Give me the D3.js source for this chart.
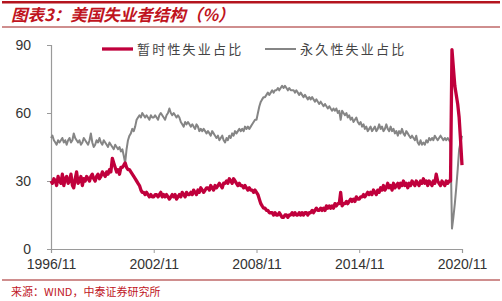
<!DOCTYPE html>
<html>
<head>
<meta charset="utf-8">
<script src="https://cdn.jsdelivr.net/npm/d3@7"></script>
<style>
  body { margin: 0; background: #fff; }
  svg { display: block; }
</style>
</head>
<body>
<div id="chart"></div>
<script>
// Monthly data, 1996/11 - 2020/11
var startYear = 1996, startMonth = 11;

// 暂时性失业占比 (%)
var temporary = [
  30, 29,                                          // 1996
  31, 30, 28, 32, 30, 29, 33, 28, 31, 32, 29, 30,  // 1997
  33, 28, 27, 31, 34, 29, 30, 32, 28, 31, 30, 32,  // 1998
  31, 30, 32, 33, 31, 30, 32, 33, 31, 32, 34, 33,  // 1999
  32, 34, 33, 35, 34, 40, 38, 36, 34, 35, 33, 36,  // 2000
  36, 37, 38, 36, 35, 35, 34, 33, 32, 31, 30, 29,  // 2001
  28, 26, 25, 25, 24, 25, 24, 23, 24, 23, 23, 24,  // 2002
  24, 23, 24, 25, 23, 24, 23, 24, 23, 22, 23, 24,  // 2003
  23, 24, 22, 23, 24, 23, 25, 24, 23, 25, 24, 24,  // 2004
  25, 24, 26, 25, 24, 26, 25, 27, 26, 25, 26, 27,  // 2005
  27, 26, 28, 27, 26, 28, 27, 28, 29, 28, 27, 29,  // 2006
  29, 30, 29, 31, 30, 29, 31, 30, 29, 28, 29, 28,  // 2007
  28, 27, 28, 27, 26, 27, 26, 26, 25, 26, 25, 24,  // 2008
  22, 20, 19, 18, 18, 17, 17, 16, 16, 16, 15, 16,  // 2009
  15, 15, 16, 15, 14, 14, 15, 15, 14, 15, 15, 16,  // 2010
  15, 16, 15, 15, 16, 15, 16, 15, 16, 16, 15, 16,  // 2011
  16, 17, 16, 17, 18, 17, 17, 18, 17, 18, 17, 19,  // 2012
  18, 19, 18, 19, 18, 20, 19, 20, 20, 25, 19, 20,  // 2013
  20, 21, 20, 21, 22, 21, 22, 21, 23, 22, 22, 23,  // 2014
  23, 24, 23, 24, 25, 24, 25, 24, 26, 25, 24, 26,  // 2015
  25, 27, 26, 28, 26, 27, 29, 27, 28, 26, 29, 27,  // 2016
  28, 29, 27, 29, 28, 30, 28, 29, 27, 29, 28, 30,  // 2017
  29, 28, 30, 29, 28, 30, 29, 31, 29, 30, 28, 30,  // 2018
  29, 28, 30, 29, 33, 30, 29, 28, 30, 29, 28, 30,  // 2019
  29, 30, 30, 88, 80, 72, 68, 64, 58, 48, 37       // 2020
];

// 永久性失业占比 (%)
var permanent = [
  49, 50,                                          // 1996
  48, 47, 46, 48, 47, 48, 49, 47, 48, 46, 48, 49,  // 1997
  47, 48, 51, 49, 48, 47, 48, 46, 47, 49, 48, 47,  // 1998
  46, 48, 51, 47, 45, 46, 48, 47, 49, 47, 46, 48,  // 1999
  47, 46, 45, 47, 46, 45, 44, 46, 45, 44, 45, 43,  // 2000
  44, 41, 38, 44, 48, 50, 51, 53, 52, 54, 57, 58,  // 2001
  59, 58, 60, 59, 58, 59, 58, 57, 59, 58, 58, 59,  // 2002
  58, 57, 59, 60, 59, 58, 57, 59, 60, 62, 60, 59,  // 2003
  60, 59, 58, 59, 58, 56, 55, 54, 56, 55, 56, 55,  // 2004
  54, 55, 54, 53, 55, 54, 52, 53, 52, 53, 52, 51,  // 2005
  52, 51, 50, 52, 51, 50, 49, 50, 48, 49, 50, 48,  // 2006
  47, 49, 48, 50, 49, 51, 50, 52, 51, 52, 53, 52,  // 2007
  53, 52, 54, 53, 54, 53, 54, 55, 56, 57, 57, 60,  // 2008
  63, 65, 66, 67, 67, 68, 69, 68, 69, 70, 69, 70,  // 2009
  70, 71, 70, 71, 72, 71, 72, 71, 70, 71, 70, 70,  // 2010
  70, 69, 70, 69, 68, 69, 68, 67, 68, 67, 66, 67,  // 2011
  66, 67, 66, 65, 66, 65, 64, 65, 64, 63, 64, 63,  // 2012
  62, 63, 62, 61, 62, 61, 62, 60, 61, 57, 61, 60,  // 2013
  59, 60, 58, 59, 57, 58, 56, 57, 58, 56, 55, 56,  // 2014
  54, 55, 53, 54, 52, 53, 54, 52, 53, 54, 52, 53,  // 2015
  55, 53, 54, 52, 53, 55, 53, 52, 54, 52, 53, 51,  // 2016
  52, 50, 52, 51, 53, 51, 50, 52, 51, 50, 49, 50,  // 2017
  49, 48, 50, 47, 46, 48, 46, 47, 46, 48, 47, 49,  // 2018
  48, 49, 48, 50, 49, 48, 49, 50, 49, 48, 49, 48,  // 2019
  49, 48, 47, 9, 14, 20, 27, 35, 44, 47, 50        // 2020
];

var yTicks = [0, 30, 60, 90];
var xTickLabels = ["1996/11", "2002/11", "2008/11", "2014/11", "2020/11"];
var seriesNames = ["暂时性失业占比", "永久性失业占比"];

var svgWidth = 502, svgHeight = 301;
var margin = { top: 45, right: 40, bottom: 52, left: 51 };
var width = svgWidth - margin.left - margin.right;
var height = svgHeight - margin.top - margin.bottom;

var red = "#c0003c", gray = "#858585";

var svg = d3.select("#chart").append("svg")
  .attr("width", svgWidth)
  .attr("height", svgHeight);

// header and footer rules
svg.append("rect").attr("x", 2).attr("y", 1).attr("width", 498).attr("height", 2.5).attr("fill", "#b4141e");
svg.append("rect").attr("x", 2).attr("y", 26.5).attr("width", 498).attr("height", 1).attr("fill", "#a01e1e");
svg.append("rect").attr("x", 2).attr("y", 279.5).attr("width", 498).attr("height", 1).attr("fill", "#a01e1e");

svg.append("text")
  .attr("x", 11).attr("y", 21)
  .attr("font-family", "Noto Sans CJK SC")
  .attr("font-size", "16.5px")
  .attr("font-weight", "bold")
  .attr("font-style", "italic")
  .attr("fill", "#c0141e")
  .text("图表3：美国失业者结构（%）");

svg.append("text")
  .attr("x", 11).attr("y", 296)
  .attr("font-family", "Noto Sans CJK SC")
  .attr("font-size", "11px")
  .attr("fill", "#c0141e")
  .text("来源：WIND，中泰证券研究所");

var chartGroup = svg.append("g")
  .attr("transform", `translate(${margin.left}, ${margin.top})`);

// convert month index to a date
function toDate(i) {
  return new Date(startYear, startMonth - 1 + i, 1);
}

var xScale = d3.scaleTime()
  .domain([toDate(0), toDate(temporary.length - 1)])
  .range([0, width]);

var yScale = d3.scaleLinear()
  .domain([0, 90])
  .range([height, 0]);

var tickDates = xTickLabels.map(function(s) {
  var p = s.split("/");
  return new Date(+p[0], +p[1] - 1, 1);
});

var xAxis = d3.axisBottom(xScale)
  .tickValues(tickDates)
  .tickSize(4)
  .tickPadding(6)
  .tickFormat(function(d, i) { return xTickLabels[i]; });

var yAxis = d3.axisLeft(yScale)
  .tickValues(yTicks)
  .tickSize(4)
  .tickPadding(16);

var xg = chartGroup.append("g")
  .attr("transform", `translate(0, ${height})`)
  .call(xAxis);

var yg = chartGroup.append("g")
  .call(yAxis);

[xg, yg].forEach(function(g) {
  g.select(".domain").attr("stroke", "#9a9a9a").attr("stroke-width", 1.2);
  g.selectAll(".tick line").attr("stroke", "#9a9a9a");
  g.selectAll(".tick text")
    .attr("font-family", "Liberation Sans, Arial, sans-serif")
    .attr("font-size", "14px")
    .attr("fill", "#333");
});
yg.selectAll(".tick line").attr("x2", 0).attr("x1", -4);

var line = d3.line()
  .x(function(d, i) { return xScale(toDate(i)); })
  .y(function(d) { return yScale(d); });

chartGroup.append("path")
  .datum(permanent)
  .attr("fill", "none")
  .attr("stroke", gray)
  .attr("stroke-width", 2)
  .attr("stroke-linejoin", "round")
  .attr("d", line);

chartGroup.append("path")
  .datum(temporary)
  .attr("fill", "none")
  .attr("stroke", red)
  .attr("stroke-width", 3.3)
  .attr("stroke-linejoin", "round")
  .attr("d", line);

// legend
var legend = [
  { name: seriesNames[0], color: red, w: 3.3, x: 102 },
  { name: seriesNames[1], color: gray, w: 2, x: 265 }
];
legend.forEach(function(l) {
  svg.append("line")
    .attr("x1", l.x).attr("x2", l.x + 31)
    .attr("y1", 49).attr("y2", 49)
    .attr("stroke", l.color)
    .attr("stroke-width", l.w);
  svg.append("text")
    .attr("x", l.x + 35).attr("y", 54)
    .attr("font-family", "Noto Sans CJK SC")
    .attr("font-size", "13px")
    .attr("letter-spacing", "2.2px")
    .attr("fill", "#444")
    .text(l.name);
});
</script>
</body>
</html>
